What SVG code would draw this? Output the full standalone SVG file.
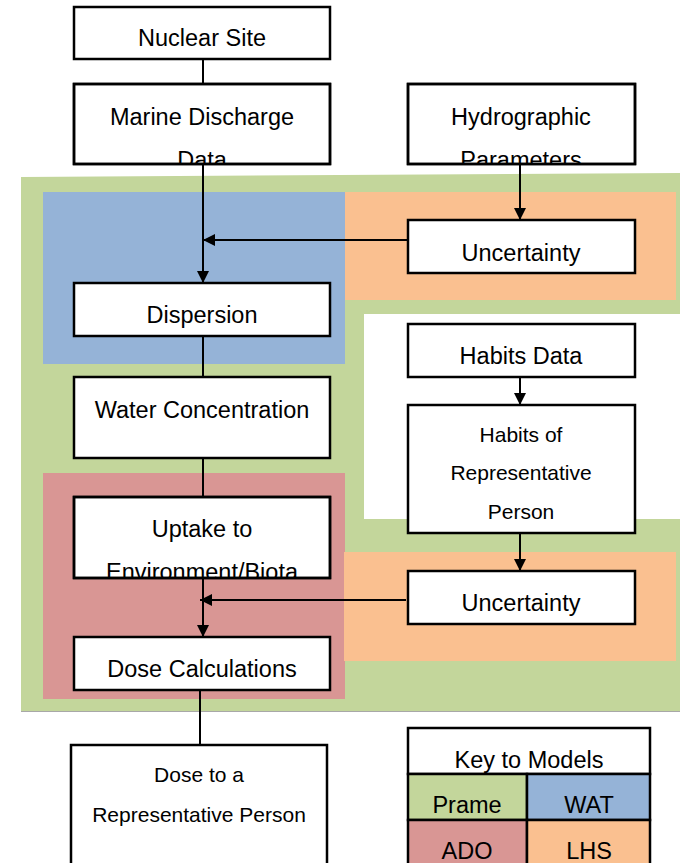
<svg xmlns="http://www.w3.org/2000/svg" width="682" height="863" viewBox="0 0 682 863">
  <style>
    .box { fill: #ffffff; stroke: #000000; stroke-width: 2.5; }
    .t { font-family: "Liberation Sans", Arial, sans-serif; font-size: 23.5px; fill: #000000; text-anchor: middle; }
    .s { font-size: 21px; }
    .wire { stroke: #000000; stroke-width: 2; fill: none; }
    .prame { fill: #c3d69b; }
    .wat { fill: #95b3d7; }
    .ado { fill: #d99694; }
    .lhs { fill: #fac090; }
  </style>
  <defs>
    <marker id="arr" viewBox="0 0 12 12" refX="12" refY="6" markerWidth="12" markerHeight="12" markerUnits="userSpaceOnUse" orient="auto">
      <path d="M0,0 L12,6 L0,12 Z" fill="#000000"/>
    </marker>
    <clipPath id="cMarine"><rect x="74" y="84" width="256" height="80"/></clipPath>
    <clipPath id="cHydro"><rect x="408" y="84" width="227" height="80"/></clipPath>
    <clipPath id="cUptake"><rect x="74" y="497" width="256" height="81"/></clipPath>
  </defs>

  <!-- model regions -->
  <g id="regions">
    <polygon class="prame" points="21,177 680,173 680,711 21,711"/>
    <line x1="21" y1="711.5" x2="680" y2="711.5" stroke="#a8a8a8" stroke-width="1"/>
    <rect class="wat" x="43" y="192" width="302" height="172"/>
    <rect class="lhs" x="345" y="192" width="331" height="108"/>
    <rect x="364" y="314" width="318" height="205" fill="#ffffff"/>
    <rect class="ado" x="43" y="473" width="302" height="226"/>
    <rect class="lhs" x="344" y="552" width="332" height="109"/>
  </g>

  <!-- connectors -->
  <g id="connectors">
    <line class="wire" x1="203" y1="59" x2="203" y2="84"/>
    <line class="wire" x1="203" y1="164" x2="203" y2="283" marker-end="url(#arr)"/>
    <line class="wire" x1="520" y1="164" x2="520" y2="220" marker-end="url(#arr)"/>
    <line class="wire" x1="408" y1="240" x2="203" y2="240" marker-end="url(#arr)"/>
    <line class="wire" x1="203" y1="336" x2="203" y2="377"/>
    <line class="wire" x1="203" y1="458" x2="203" y2="497"/>
    <line class="wire" x1="520" y1="377" x2="520" y2="405" marker-end="url(#arr)"/>
    <line class="wire" x1="520" y1="533" x2="520" y2="571" marker-end="url(#arr)"/>
    <line class="wire" x1="203" y1="578" x2="203" y2="637" marker-end="url(#arr)"/>
    <line class="wire" x1="406" y1="600" x2="200" y2="600" marker-end="url(#arr)"/>
    <line class="wire" x1="200" y1="690" x2="200" y2="745"/>
  </g>

  <g id="nuclear-site">
    <rect class="box" x="74" y="7" width="256" height="52"/>
    <text class="t" x="202" y="46">Nuclear Site</text>
  </g>

  <g id="marine-discharge">
    <rect class="box" x="74" y="84" width="256" height="80"/>
    <g clip-path="url(#cMarine)">
      <text class="t" x="202" y="125">Marine Discharge</text>
      <text class="t" x="202" y="168">Data</text>
    </g>
    <rect x="74" y="84" width="256" height="80" fill="none" stroke="#000" stroke-width="2.5"/>
  </g>

  <g id="hydrographic">
    <rect class="box" x="408" y="84" width="227" height="80"/>
    <g clip-path="url(#cHydro)">
      <text class="t" x="521" y="125">Hydrographic</text>
      <text class="t" x="521" y="168">Parameters</text>
    </g>
    <rect x="408" y="84" width="227" height="80" fill="none" stroke="#000" stroke-width="2.5"/>
  </g>

  <g id="uncertainty-1">
    <rect class="box" x="408" y="220" width="227" height="53"/>
    <text class="t" x="521" y="261">Uncertainty</text>
  </g>

  <g id="dispersion">
    <rect class="box" x="74" y="283" width="256" height="53"/>
    <text class="t" x="202" y="323">Dispersion</text>
  </g>

  <g id="habits-data">
    <rect class="box" x="408" y="324" width="227" height="53"/>
    <text class="t" x="521" y="364">Habits Data</text>
  </g>

  <g id="water-concentration">
    <rect class="box" x="74" y="377" width="256" height="81"/>
    <text class="t" x="202" y="418">Water Concentration</text>
  </g>

  <g id="habits-representative">
    <rect class="box" x="408" y="405" width="227" height="128"/>
    <text class="t s" x="521" y="442">Habits of</text>
    <text class="t s" x="521" y="480">Representative</text>
    <text class="t s" x="521" y="519">Person</text>
  </g>

  <g id="uptake">
    <rect class="box" x="74" y="497" width="256" height="81"/>
    <g clip-path="url(#cUptake)">
      <text class="t" x="202" y="537">Uptake to</text>
      <text class="t" x="202" y="580">Environment/Biota</text>
    </g>
    <rect x="74" y="497" width="256" height="81" fill="none" stroke="#000" stroke-width="2.5"/>
  </g>

  <g id="uncertainty-2">
    <rect class="box" x="408" y="571" width="227" height="53"/>
    <text class="t" x="521" y="611">Uncertainty</text>
  </g>

  <g id="dose-calculations">
    <rect class="box" x="74" y="637" width="256" height="53"/>
    <text class="t" x="202" y="677">Dose Calculations</text>
  </g>

  <g id="dose-representative">
    <rect class="box" x="71" y="745" width="256" height="130"/>
    <text class="t s" x="199" y="782">Dose to a</text>
    <text class="t s" x="199" y="822">Representative Person</text>
  </g>

  <g id="key">
    <rect class="box" x="408" y="728" width="242" height="46"/>
    <text class="t" x="529" y="768">Key to Models</text>
    <rect class="prame" x="408" y="774" width="119" height="46" stroke="#000" stroke-width="2.5"/>
    <text class="t" x="467" y="813">Prame</text>
    <rect class="wat" x="527" y="774" width="123" height="46" stroke="#000" stroke-width="2.5"/>
    <text class="t" x="589" y="813">WAT</text>
    <rect class="ado" x="408" y="820" width="119" height="55" stroke="#000" stroke-width="2.5"/>
    <text class="t" x="467" y="859">ADO</text>
    <rect class="lhs" x="527" y="820" width="123" height="55" stroke="#000" stroke-width="2.5"/>
    <text class="t" x="589" y="859">LHS</text>
  </g>
</svg>
